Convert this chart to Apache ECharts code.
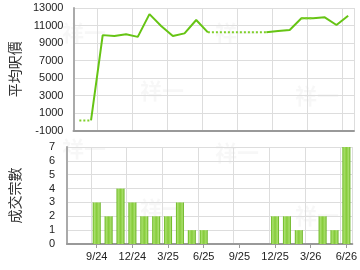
<!DOCTYPE html>
<html><head><meta charset="utf-8">
<script src="https://cdn.jsdelivr.net/npm/echarts@6/dist/echarts.min.js"></script>
<style>html,body{margin:0;padding:0;background:#fff}#c{width:360px;height:270px}</style>
</head><body><div id="c"></div>
<script>
var months = ['7/24','8/24','9/24','10/24','11/24','12/24','1/25','2/25','3/25','4/25','5/25','6/25',
  '7/25','8/25','9/25','10/25','11/25','12/25','1/26','2/26','3/26','4/26','5/26','6/26'];
var avgPrice = [150,150,9900,9800,10000,9700,12300,10950,9800,10100,11630,10220,
  10220,10220,10220,10220,10220,10370,10490,11820,11820,11930,11060,12120];
var dealCount = [0,0,3,2,4,3,2,2,2,3,1,1,0,0,0,0,0,2,2,1,0,2,1,7];
var priceTicks = [-1000,1000,3000,5000,7000,9000,11000,13000];
var countTicks = [0,1,2,3,4,5,6,7];

var n = months.length;
var solid = [], dotted = [];
for (var i = 0; i < n; i++) {
  var nextHas = i + 1 < n && dealCount[i + 1] > 0;
  var nextNo = i + 1 < n && dealCount[i + 1] === 0;
  solid.push((dealCount[i] > 0 || nextHas) ? avgPrice[i] : null);
  dotted.push((dealCount[i] === 0 || nextNo) ? avgPrice[i] : null);
}
function every3(idx) { return idx % 3 === 2; }
var txt = {fontFamily: 'Liberation Sans, Arial, sans-serif', fontSize: 11, color: '#222'};
var chart = echarts.init(document.getElementById('c'), null, {renderer: 'canvas'});
var wm = [];
[[62,22],[140,80],[215,22],[295,85],[62,138],[140,198],[215,142],[295,205]].forEach(function(p){
  wm.push({type:'text', left:p[0], top:p[1], z:-10, silent:true,
    style:{text:'祥一', fill:'rgba(0,0,0,0.03)', font:'bold 22px "Noto Sans CJK TC", sans-serif'}});
});
chart.setOption({
  animation: false,
  graphic: wm,
  grid: [
    {left: 65, right: 6, top: 8, height: 122.5},
    {left: 65, right: 6, top: 147, height: 97}
  ],
  xAxis: [
    {type: 'category', gridIndex: 0, data: months, boundaryGap: true,
     axisLine: {onZero: false, lineStyle: {color: '#999', width: 2}}, axisTick: {show: false}, axisLabel: {show: false},
     splitLine: {show: true, interval: every3, lineStyle: {color: '#ddd', width: 1}}},
    {type: 'category', gridIndex: 1, data: months, boundaryGap: true,
     axisLine: {onZero: false, lineStyle: {color: '#999', width: 2}},
     axisTick: {show: true, interval: every3, alignWithLabel: true, length: 4, lineStyle: {color: '#999'}},
     axisLabel: Object.assign({interval: every3, margin: 7}, txt),
     splitLine: {show: true, interval: every3, lineStyle: {color: '#ddd', width: 1}}}
  ],
  yAxis: [
    {type: 'value', gridIndex: 0, min: priceTicks[0], max: priceTicks[priceTicks.length-1], interval: 2000,
     name: '平均呎價', nameLocation: 'middle', nameGap: 45, nameRotate: 90,
     nameTextStyle: {fontFamily: '"Noto Sans CJK TC", sans-serif', fontSize: 14, color: '#333'},
     axisLine: {show: true, lineStyle: {color: '#aaa', width: 2}}, axisTick: {show: false},
     axisLabel: Object.assign({margin: 10, formatter: function(v){ return String(v); }}, txt),
     splitLine: {lineStyle: {color: '#ddd', width: 1}}},
    {type: 'value', gridIndex: 1, min: countTicks[0], max: countTicks[countTicks.length-1], interval: 1,
     name: '成交宗數', nameLocation: 'middle', nameGap: 45, nameRotate: 90,
     nameTextStyle: {fontFamily: '"Noto Sans CJK TC", sans-serif', fontSize: 14, color: '#333'},
     axisLine: {show: true, lineStyle: {color: '#aaa', width: 2}}, axisTick: {show: false},
     axisLabel: Object.assign({margin: 12}, txt),
     splitLine: {lineStyle: {color: '#ddd', width: 1}}}
  ],
  series: [
    {type: 'line', xAxisIndex: 0, yAxisIndex: 0, data: solid, showSymbol: false, connectNulls: false,
     lineStyle: {color: '#66c414', width: 2}},
    {type: 'line', xAxisIndex: 0, yAxisIndex: 0, data: dotted, showSymbol: false, connectNulls: false,
     lineStyle: {color: '#7fd02a', width: 2, type: [2, 2]}},
    {type: 'bar', xAxisIndex: 1, yAxisIndex: 1, data: dealCount, barWidth: 8,
     itemStyle: {color: new echarts.graphic.LinearGradient(0, 0, 1, 0, [
       {offset: 0, color: '#5fb212'}, {offset: 0.2, color: '#a9df6c'}, {offset: 0.5, color: '#86cc3a'},
       {offset: 0.8, color: '#a9df6c'}, {offset: 1, color: '#5aaa0e'}])}}
  ]
});
</script></body></html>
